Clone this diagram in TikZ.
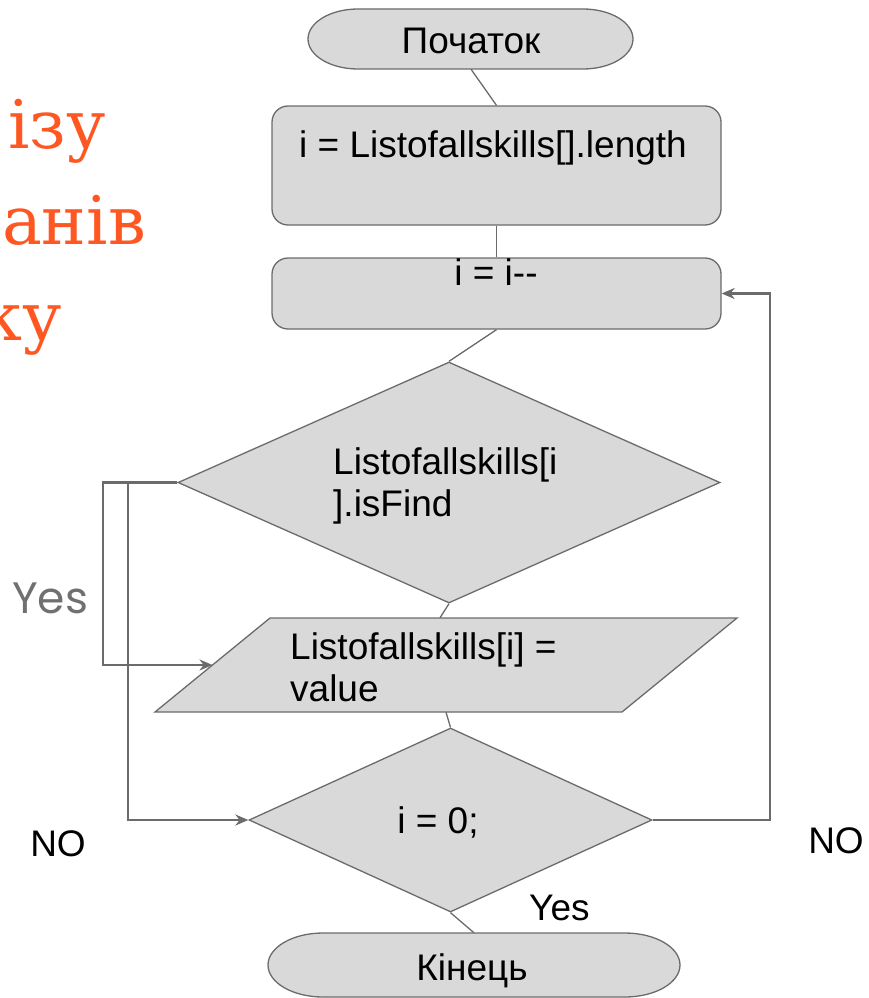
\documentclass[tikz,border=0pt]{standalone}
\usepackage{fontspec}
\setmainfont{Liberation Sans}
\newfontfamily\orangefont{DejaVu Serif}
\newfontfamily\yesfont{Poppins}
\usetikzlibrary{shapes.geometric,arrows.meta}
\definecolor{shapefill}{HTML}{D9D9D9}
\definecolor{linegray}{HTML}{6B6B6B}
\definecolor{titleorange}{HTML}{FF5722}
\definecolor{labelgray}{HTML}{707070}
\begin{document}
\begin{tikzpicture}[x=1pt,y=1pt,
  shapebox/.style={draw=linegray, fill=shapefill, line width=1.3pt, inner sep=0pt},
  roundbox/.style={shapebox, rectangle, rounded corners=16pt},
  decision/.style={shapebox, diamond},
  holder/.style={rectangle, inner sep=0pt},
  termshape/.style={draw=linegray, fill=shapefill, line width=1.3pt},
  txt/.style={font=\fontsize{37}{42.5}\selectfont, inner sep=0pt, text=black},
  thinconn/.style={draw=linegray, line width=1.3pt},
  loopconn/.style={draw=linegray, line width=2.3pt, -{Stealth[length=13pt,width=11pt]}},
  titletxt/.style={font=\orangefont\fontsize{67}{72}\selectfont, text=titleorange, anchor=base east, inner sep=0pt},
]
\useasboundingbox (0,0) rectangle (868,-998);

% title fragments
\begin{scope}
\clip (0,0) rectangle (868,-998);
\node[titletxt] (t1) at (106,-148) {ізу};
\node[titletxt] (t2) at (146,-244) {анів};
\node[titletxt] (t3) at (62,-340) {ку};
\end{scope}

% start terminal
\path[termshape] (358,-9) -- (583,-9) arc[start angle=90,end angle=-90,x radius=50,y radius=30] -- (358,-69) arc[start angle=270,end angle=90,x radius=50,y radius=30] -- cycle;
\node[holder, minimum width=327pt, minimum height=60pt] (start) at (471,-39) {};
\node[txt, anchor=base] (start-t) at (471,-53) {Початок};

% boxes
\node[roundbox, minimum width=449pt, minimum height=119pt] (box1) at (496.5,-165.5) {};
\node[txt, anchor=base] (box1-t) at (493,-157) {i = Listofallskills[].length};
\node[roundbox, minimum width=449pt, minimum height=71pt] (box2) at (496.5,-293.5) {};
\node[txt, anchor=base] (box2-t) at (496,-285) {i = i-{}-};

% decision 1
\node[decision, minimum width=542pt, minimum height=241pt] (d1) at (449,-482.5) {};
\node[txt, anchor=base west] (d1-t) at (333,-474) {\begin{tabular}[t]{@{}l@{}}Listofallskills[i\\].isFind\end{tabular}};

% io (parallelogram)
\path[termshape] (155,-712) -- (622,-712) -- (737,-618) -- (270,-618) -- cycle;
\node[holder, minimum width=582pt, minimum height=94pt] (para) at (446,-665) {};
\coordinate (para-in) at (212.5,-665);
\node[txt, anchor=base west] (para-t) at (290,-659) {\begin{tabular}[t]{@{}l@{}}Listofallskills[i] =\\value\end{tabular}};

% decision 2
\node[decision, minimum width=403pt, minimum height=184pt] (d2) at (450.5,-820) {};
\node[txt, anchor=base] (d2-t) at (438,-833) {i = 0;};

% end terminal
\path[termshape] (323,-933) -- (625,-933) arc[start angle=90,end angle=-90,x radius=55,y radius=32] -- (323,-997) arc[start angle=270,end angle=90,x radius=55,y radius=32] -- cycle;
\node[holder, minimum width=412pt, minimum height=64pt] (end) at (474,-965) {};
\node[txt, anchor=base] (end-t) at (472,-980) {Кінець};

% straight connectors
\draw[thinconn] (start.south) -- (box1.north);
\draw[thinconn] (box1.south) -- (box2.north);
\draw[thinconn] (box2.south) -- (d1.north);
\draw[thinconn] (d1.south) -- ([xshift=-6pt]para.north);
\draw[thinconn] (para.south) -- (d2.north);
\draw[thinconn] (d2.south) -- (end.north);

% loop connectors
\coordinate (bendA) at (103,-560);
\coordinate (bendB) at (128,-560);
\coordinate (bendC) at (770,-560);
\draw[loopconn] (d1.west) -| (bendA) |- (para-in);
\draw[loopconn] (d1.west) -| (bendB) |- (d2.west);
\draw[loopconn] (d2.east) -| (bendC) |- (box2.east);

% labels
\node[font=\yesfont\fontsize{44}{50}\selectfont, text=labelgray, anchor=base west, inner sep=0pt] (yesL) at (12,-613) {Yes};
\node[txt, anchor=base] (noL) at (58,-856) {NO};
\node[txt, anchor=base] (noR) at (836,-853) {NO};
\node[txt, anchor=base west] (yesR) at (529,-920) {Yes};
\end{tikzpicture}
\end{document}
